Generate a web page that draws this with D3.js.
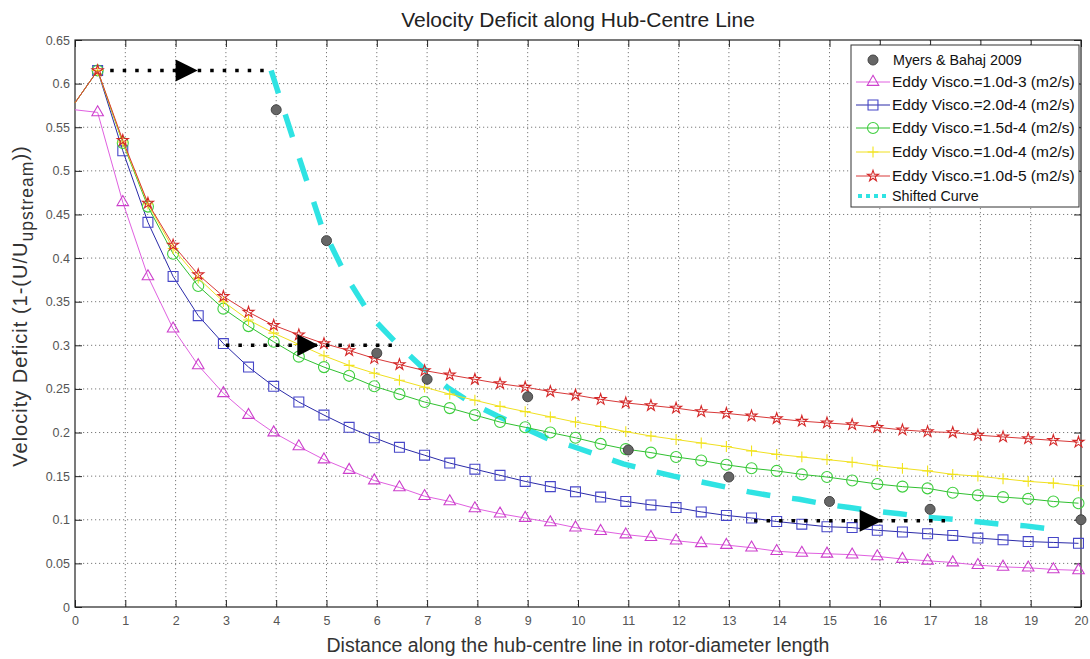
<!DOCTYPE html>
<html>
<head>
<meta charset="utf-8">
<script src="https://cdn.jsdelivr.net/npm/d3@7"></script>
<style>
    body { margin: 0; background: #fff; }
    svg { display: block; font-family: "Liberation Sans", Arial, sans-serif; }
</style>
</head>
<body>
<svg id="chart" width="1090" height="659"></svg>
<script>

// ##################################################
// #                                                #
// #  Data                                          #
// #                                                #
// ##################################################

// distance along hub-centre line (rotor diameters)
const xModel = [0, 0.45, 0.95, 1.45, 1.95, 2.45, 2.95, 3.45, 3.95, 4.45, 4.95,
    5.45, 5.95, 6.45, 6.95, 7.45, 7.95, 8.45, 8.95, 9.45, 9.95,
    10.45, 10.95, 11.45, 11.95, 12.45, 12.95, 13.45, 13.95, 14.45, 14.95,
    15.45, 15.95, 16.45, 16.95, 17.45, 17.95, 18.45, 18.95, 19.45, 19.95];

const visc1e3 = [0.570, 0.567, 0.464, 0.379, 0.319, 0.277, 0.245, 0.220, 0.200, 0.184, 0.169,
    0.157, 0.145, 0.137, 0.127, 0.121, 0.113, 0.107, 0.102, 0.097, 0.091,
    0.087, 0.083, 0.080, 0.076, 0.073, 0.071, 0.068, 0.064, 0.062, 0.061,
    0.060, 0.058, 0.055, 0.053, 0.051, 0.048, 0.046, 0.045, 0.043, 0.042];

const visc2e4 = [0.578, 0.615, 0.523, 0.441, 0.379, 0.334, 0.302, 0.275, 0.253, 0.235, 0.220,
    0.206, 0.194, 0.183, 0.174, 0.165, 0.158, 0.151, 0.144, 0.138, 0.132,
    0.126, 0.121, 0.117, 0.114, 0.109, 0.105, 0.102, 0.098, 0.095, 0.092,
    0.091, 0.088, 0.086, 0.084, 0.082, 0.079, 0.077, 0.075, 0.074, 0.073];

const visc15e4 = [0.578, 0.615, 0.532, 0.459, 0.405, 0.368, 0.342, 0.322, 0.304, 0.287, 0.275,
    0.265, 0.253, 0.244, 0.235, 0.228, 0.220, 0.212, 0.206, 0.200, 0.194,
    0.187, 0.181, 0.177, 0.172, 0.168, 0.163, 0.159, 0.156, 0.152, 0.149,
    0.145, 0.141, 0.138, 0.136, 0.131, 0.128, 0.126, 0.124, 0.121, 0.119];

const visc1e4 = [0.578, 0.615, 0.533, 0.462, 0.411, 0.377, 0.350, 0.329, 0.314, 0.301, 0.288,
    0.277, 0.268, 0.260, 0.252, 0.244, 0.237, 0.230, 0.224, 0.218, 0.212,
    0.207, 0.201, 0.196, 0.192, 0.188, 0.184, 0.179, 0.175, 0.172, 0.169,
    0.166, 0.162, 0.159, 0.156, 0.152, 0.150, 0.147, 0.144, 0.142, 0.139];

const visc1e5 = [0.578, 0.615, 0.535, 0.463, 0.415, 0.381, 0.356, 0.338, 0.323, 0.312, 0.302,
    0.294, 0.285, 0.278, 0.271, 0.266, 0.261, 0.256, 0.252, 0.247, 0.243,
    0.238, 0.234, 0.231, 0.228, 0.224, 0.222, 0.219, 0.216, 0.213, 0.211,
    0.209, 0.206, 0.203, 0.201, 0.200, 0.197, 0.195, 0.193, 0.191, 0.189];

// Myers & Bahaj 2009 measurements
const expX = [4, 5, 6, 7, 9, 11, 13, 15, 17, 20];
const expY = [0.570, 0.420, 0.291, 0.261, 0.241, 0.180, 0.149, 0.121, 0.112, 0.100];

// shifted curve
const shiftX = [3.9, 4.4, 4.9, 5.4, 5.9, 6.4, 6.9, 7.4, 7.9, 8.4, 8.9, 9.4, 9.9,
    10.4, 10.9, 11.4, 11.9, 12.4, 12.9, 13.4, 13.9, 14.4, 14.9, 15.4, 15.9,
    16.4, 16.9, 17.4, 17.9, 18.4, 18.9, 19.45];
const shiftY = [0.615, 0.525, 0.437, 0.378, 0.332, 0.302, 0.275, 0.252, 0.233, 0.219, 0.206, 0.193, 0.184,
    0.174, 0.164, 0.157, 0.150, 0.144, 0.138, 0.132, 0.127, 0.1235, 0.118, 0.114, 0.110,
    0.107, 0.103, 0.101, 0.098, 0.095, 0.093, 0.089];

// dotted arrows: [x from, x to, y, arrow base x, arrow tip x]
const arrows = [
    [0.7, 3.85, 0.615, 2.0, 2.44],
    [3.0, 6.3, 0.300, 4.42, 4.84],
    [13.5, 17.4, 0.099, 15.6, 16.05]
];

const xTicks = d3.range(0, 21);
const yTicks = [0, 0.05, 0.1, 0.15, 0.2, 0.25, 0.3, 0.35, 0.4, 0.45, 0.5, 0.55, 0.6, 0.65];

const series = [
    {name: 'Eddy Visco.=1.0d-3 (m2/s)', values: visc1e3, line: '#e060e0', stroke: '#cc3fcc', symbol: d3.symbolTriangle2, size: 95},
    {name: 'Eddy Visco.=2.0d-4 (m2/s)', values: visc2e4, line: '#2a2aa8', stroke: '#4646c8', symbol: d3.symbolSquare2, size: 125},
    {name: 'Eddy Visco.=1.5d-4 (m2/s)', values: visc15e4, line: '#30c030', stroke: '#3fcf3f', symbol: d3.symbolCircle, size: 95},
    {name: 'Eddy Visco.=1.0d-4 (m2/s)', values: visc1e4, line: '#f0e020', stroke: '#f2e41c', symbol: d3.symbolPlus, size: 40},
    {name: 'Eddy Visco.=1.0d-5 (m2/s)', values: visc1e5, line: '#d83838', stroke: '#d42828', symbol: d3.symbolStar, size: 38}
];

// ##################################################
// #                                                #
// #  Chart                                         #
// #                                                #
// ##################################################

const svg = d3.select('#chart');
const plotLeft = 75, plotRight = 1081, plotTop = 40, plotBottom = 607;

const x = d3.scaleLinear().domain([0, 20]).range([plotLeft, plotRight]);
const y = d3.scaleLinear().domain([0, 0.65]).range([plotBottom, plotTop]);

svg.append('text')
    .attr('x', (plotLeft + plotRight) / 2)
    .attr('y', 27)
    .attr('text-anchor', 'middle')
    .attr('font-size', 21)
    .attr('fill', '#222')
    .text('Velocity Deficit along Hub-Centre Line');

// grid
const grid = svg.append('g').attr('class', 'grid')
    .attr('stroke', '#7a7a7a')
    .attr('stroke-width', 1)
    .attr('stroke-dasharray', '1.2,2.8');

grid.selectAll('.gx')
    .data(xTicks.slice(1, -1))
    .enter().append('line')
    .attr('x1', d => x(d)).attr('x2', d => x(d))
    .attr('y1', plotTop).attr('y2', plotBottom);

grid.selectAll('.gy')
    .data(yTicks.slice(1, -1))
    .enter().append('line')
    .attr('x1', plotLeft).attr('x2', plotRight)
    .attr('y1', d => y(d)).attr('y2', d => y(d));

// axes (ticks inside, on all four sides)
const fmt = d => String(+d.toFixed(2));

function styleAxis(g) {
    g.select('.domain').remove();
    g.selectAll('.tick line').attr('stroke', '#222');
    g.selectAll('.tick text').attr('fill', '#555').attr('font-size', 12.5);
}

svg.append('g')
    .attr('transform', `translate(0,${plotBottom})`)
    .call(d3.axisBottom(x).tickValues(xTicks).tickFormat(fmt).tickSize(-7).tickPadding(9))
    .call(styleAxis);

svg.append('g')
    .attr('transform', `translate(${plotLeft},0)`)
    .call(d3.axisLeft(y).tickValues(yTicks).tickFormat(fmt).tickSize(-7).tickPadding(5))
    .call(styleAxis);

svg.append('g')
    .attr('transform', `translate(0,${plotTop})`)
    .call(d3.axisTop(x).tickValues(xTicks).tickFormat('').tickSize(-7))
    .call(styleAxis);

svg.append('g')
    .attr('transform', `translate(${plotRight},0)`)
    .call(d3.axisRight(y).tickValues(yTicks).tickFormat('').tickSize(-7))
    .call(styleAxis);

svg.append('rect')
    .attr('x', plotLeft).attr('y', plotTop)
    .attr('width', plotRight - plotLeft).attr('height', plotBottom - plotTop)
    .attr('fill', 'none')
    .attr('stroke', '#222')
    .attr('stroke-width', 1.2);

// axis labels
svg.append('text')
    .attr('x', (plotLeft + plotRight) / 2)
    .attr('y', 652)
    .attr('text-anchor', 'middle')
    .attr('font-size', 19.5)
    .attr('fill', '#333')
    .text('Distance along the hub-centre line in rotor-diameter length');

const yLabel = svg.append('text')
    .attr('transform', 'translate(27,306) rotate(-90)')
    .attr('text-anchor', 'middle')
    .attr('font-size', 20)
    .attr('letter-spacing', 1)
    .attr('fill', '#333');
yLabel.append('tspan').text('Velocity Deficit (1-(U/U');
yLabel.append('tspan').attr('dy', 6).attr('font-size', 17.5).text('upstream');
yLabel.append('tspan').attr('dy', -6).text('))');

// ##################################################
// #                                                #
// #  Series                                        #
// #                                                #
// ##################################################

const plot = svg.append('g');
const line = d3.line().x(d => x(d[0])).y(d => y(d[1]));

// shifted curve under the model lines
plot.append('path')
    .datum(d3.zip(shiftX, shiftY))
    .attr('d', line)
    .attr('fill', 'none')
    .attr('stroke', '#2fe3e3')
    .attr('stroke-width', 5.5)
    .attr('stroke-dasharray', '24,22');

series.forEach(s => {
    const pts = d3.zip(xModel, s.values);
    plot.append('path')
        .datum(pts)
        .attr('d', line)
        .attr('fill', 'none')
        .attr('stroke', s.line)
        .attr('stroke-width', 1);

    plot.append('g').selectAll('path')
        .data(pts.slice(1))
        .enter().append('path')
        .attr('transform', d => `translate(${x(d[0])},${y(d[1])})`)
        .attr('d', d3.symbol(s.symbol, s.size))
        .attr('fill', 'none')
        .attr('stroke', s.stroke)
        .attr('stroke-width', 1.1);
});

// dotted arrows
const arrowGroup = plot.append('g');
arrows.forEach(a => {
    arrowGroup.append('line')
        .attr('x1', x(a[0])).attr('x2', x(a[1]))
        .attr('y1', y(a[2])).attr('y2', y(a[2]))
        .attr('stroke', '#000')
        .attr('stroke-width', 3.5)
        .attr('stroke-dasharray', '3.5,9');
    const bx = x(a[3]), tx = x(a[4]), cy = y(a[2]);
    arrowGroup.append('path')
        .attr('d', `M${bx},${cy - 11}L${tx},${cy}L${bx},${cy + 11}Z`)
        .attr('fill', '#000');
});

// experiment points
plot.append('g').selectAll('circle')
    .data(d3.zip(expX, expY))
    .enter().append('circle')
    .attr('cx', d => x(d[0]))
    .attr('cy', d => y(d[1]))
    .attr('r', 5)
    .attr('fill', '#666')
    .attr('stroke', '#444');

// ##################################################
// #                                                #
// #  Legend                                        #
// #                                                #
// ##################################################

const legend = svg.append('g').attr('transform', 'translate(851,45)');
legend.append('rect')
    .attr('width', 228).attr('height', 162)
    .attr('fill', '#fff')
    .attr('stroke', '#333');

const rowY = [15, 37, 60, 83, 107, 131, 151];
const textX = 41;

legend.append('circle')
    .attr('cx', 22).attr('cy', rowY[0])
    .attr('r', 5).attr('fill', '#666').attr('stroke', '#444');

series.forEach((s, i) => {
    const ry = rowY[i + 1];
    legend.append('line')
        .attr('x1', 5).attr('x2', 39)
        .attr('y1', ry).attr('y2', ry)
        .attr('stroke', s.line);
    legend.append('path')
        .attr('transform', `translate(22,${ry})`)
        .attr('d', d3.symbol(s.symbol, s.size))
        .attr('fill', 'none')
        .attr('stroke', s.stroke)
        .attr('stroke-width', 1.1);
});

legend.append('line')
    .attr('x1', 7).attr('x2', 37)
    .attr('y1', rowY[6]).attr('y2', rowY[6])
    .attr('stroke', '#2fe3e3')
    .attr('stroke-width', 4)
    .attr('stroke-dasharray', '4,4');

const legendNames = ['Myers & Bahaj 2009'].concat(series.map(s => s.name), ['Shifted Curve']);
legend.selectAll('.label')
    .data(legendNames)
    .enter().append('text')
    .attr('x', (d, i) => i === 0 ? textX + 1 : textX)
    .attr('y', (d, i) => rowY[i])
    .attr('dy', '0.35em')
    .attr('font-size', (d, i) => i === 0 || i === 6 ? 14.3 : 15.5)
    .attr('fill', '#111')
    .text(d => d);

</script>
</body>
</html>
